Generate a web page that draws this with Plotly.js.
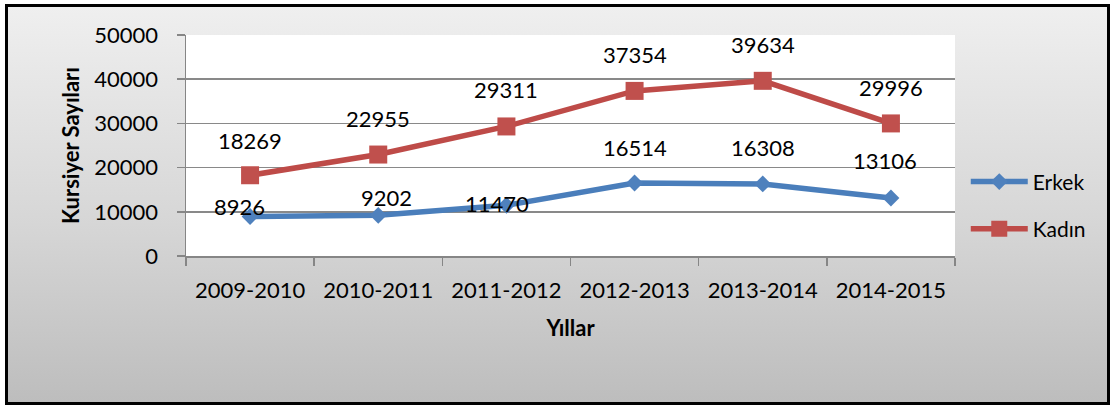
<!DOCTYPE html>
<html>
<head>
<meta charset="utf-8">
<script src="https://cdn.plot.ly/plotly-3.0.1.min.js"></script>
<style>
  html, body { margin: 0; padding: 0; width: 1110px; height: 405px; overflow: hidden; background: #ffffff; }
  #wrap { position: relative; width: 1110px; height: 405px; overflow: hidden; }
  #frame { position: absolute; left: 5px; top: 4px; width: 1099px; height: 395px;
           border: 3px solid #000; background: linear-gradient(to bottom, #efefef 0%, #d6d6d6 55%, #bdbdbd 100%); }
  #chart { position: absolute; left: 0; top: 0; width: 1110px; height: 405px; }
</style>
</head>
<body>
<div id="wrap">
<div id="frame"></div>
<div id="chart"></div>
</div>
<script>
const categories = ["2009-2010", "2010-2011", "2011-2012", "2012-2013", "2013-2014", "2014-2015"];
const erkek = [8926, 9202, 11470, 16514, 16308, 13106];
const kadin = [18269, 22955, 29311, 37354, 39634, 29996];
const yTicks = [0, 10000, 20000, 30000, 40000, 50000];

// label offsets (pixels) relative to each point
const erkekLabelDX = [-11, 8, -9, 0, 0, -6];
const erkekLabelDY = [10, 18, 2, 36, 36, 38];
const kadinLabelDX = [0, 0, 0, 0, 0, 0];
const kadinLabelDY = [35, 36, 37, 36, 36, 36];

const FONT = "Lato, 'Open Sans', sans-serif";
const blue = "#4a7ebb", blueM = "#4f81bd";
const red = "#be4b48", redM = "#c0504d";

const traces = [
  { x: categories, y: erkek, name: "Erkek", type: "scatter", mode: "lines+markers",
    line: { color: blue, width: 5.5 },
    marker: { symbol: "diamond", size: 13, color: blueM, line: { width: 0 } },
    legend: "legend" },
  { x: categories, y: kadin, name: "Kadın", type: "scatter", mode: "lines+markers",
    line: { color: red, width: 5.5 },
    marker: { symbol: "square", size: 18, color: redM, line: { width: 0 } },
    legend: "legend2" }
];

const annotations = [];
categories.forEach((c, i) => {
  annotations.push({ x: c, y: erkek[i], xref: "x", yref: "y", text: String(erkek[i]), showarrow: false,
    xshift: erkekLabelDX[i], yshift: erkekLabelDY[i], xanchor: "center", yanchor: "middle",
    font: { family: FONT, size: 22, color: "#000" } });
  annotations.push({ x: c, y: kadin[i], xref: "x", yref: "y", text: String(kadin[i]), showarrow: false,
    xshift: kadinLabelDX[i], yshift: kadinLabelDY[i], xanchor: "center", yanchor: "middle",
    font: { family: FONT, size: 22, color: "#000" } });
});

const layout = {
  width: 1110, height: 405,
  paper_bgcolor: "rgba(0,0,0,0)",
  plot_bgcolor: "#ffffff",
  margin: { l: 186, r: 155, t: 35, b: 149, pad: 0, autoexpand: false },
  font: { family: FONT, color: "#000" },
  xaxis: {
    type: "category",
    range: [-0.5, categories.length - 0.5],
    automargin: false,
    tickson: "boundaries",
    ticks: "outside", ticklen: 8, tickwidth: 1.5, tickcolor: "#868686",
    showline: true, linecolor: "#868686", linewidth: 1.5,
    showgrid: false, zeroline: false,
    tickfont: { family: FONT, size: 22, color: "#000" },
    ticklabelstandoff: 14,
    title: { text: "<b>Yıllar</b>", font: { family: FONT, size: 22, color: "#000" }, standoff: 18 },
    fixedrange: true
  },
  yaxis: {
    range: [0, 50000],
    automargin: false,
    tickvals: yTicks, ticktext: yTicks.map(String),
    ticks: "outside", ticklen: 8, tickwidth: 1.5, tickcolor: "#868686",
    showline: true, linecolor: "#868686", linewidth: 1.5,
    showgrid: true, gridcolor: "#898989", gridwidth: 1.5,
    zeroline: false,
    tickfont: { family: FONT, size: 22, color: "#000" },
    ticklabelstandoff: 14,
    title: { text: "<b>Kursiyer Sayıları</b>", font: { family: FONT, size: 22, color: "#000" }, standoff: 8 },
    fixedrange: true
  },
  showlegend: true,
  legend: { x: 1.014, xanchor: "left", y: 0.335, yanchor: "middle", bgcolor: "rgba(0,0,0,0)",
            itemwidth: 57, font: { family: FONT, size: 21, color: "#000" } },
  legend2: { x: 1.014, xanchor: "left", y: 0.122, yanchor: "middle", bgcolor: "rgba(0,0,0,0)",
             itemwidth: 57, font: { family: FONT, size: 21, color: "#000" } },
  annotations: annotations
};

Plotly.newPlot("chart", traces, layout, { displayModeBar: false, staticPlot: true });
</script>
</body>
</html>
